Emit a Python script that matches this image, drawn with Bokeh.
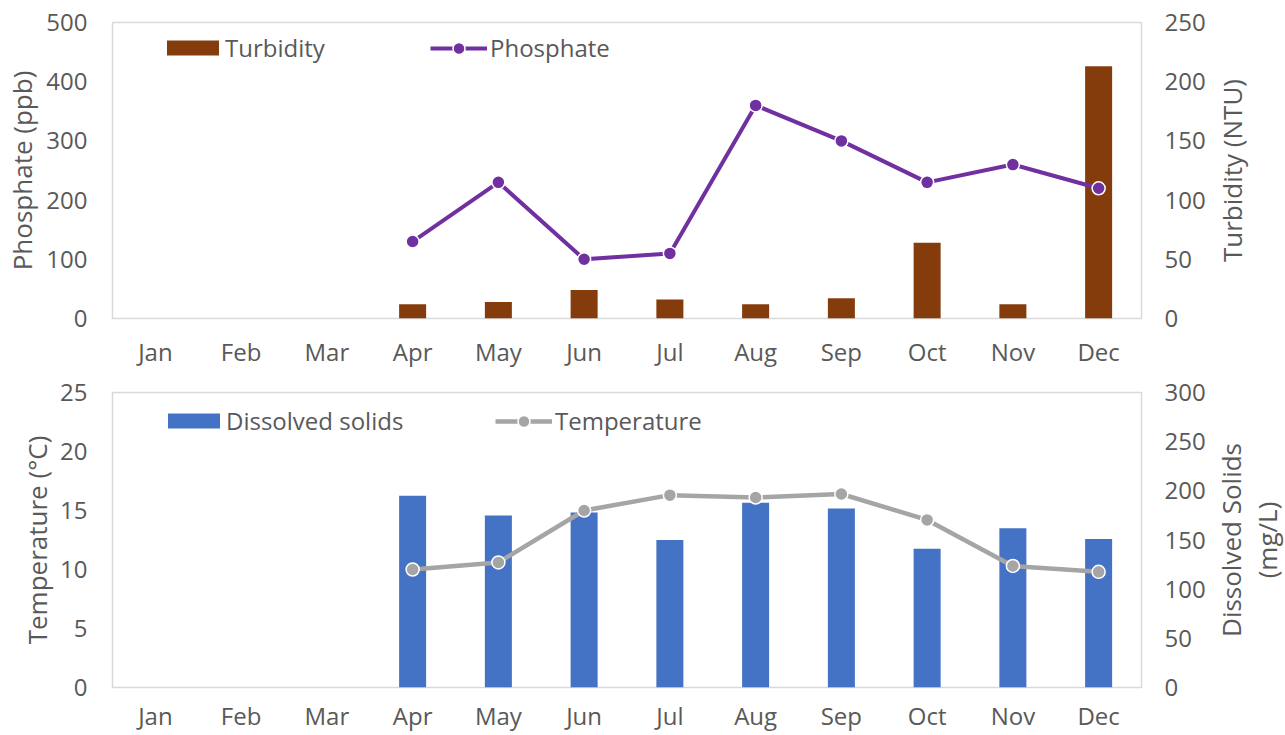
from bokeh.plotting import figure
from bokeh.models import (Range1d, LinearAxis, FixedTicker, Legend, LegendItem,
                          ColumnDataSource)
from bokeh.layouts import gridplot
from bokeh.embed import file_html
from bokeh.resources import INLINE

months = ["Jan", "Feb", "Mar", "Apr", "May", "Jun", "Jul", "Aug", "Sep", "Oct", "Nov", "Dec"]
data_months = ["Apr", "May", "Jun", "Jul", "Aug", "Sep", "Oct", "Nov", "Dec"]
phosphate = [130, 230, 100, 110, 360, 300, 230, 260, 220]
turbidity = [12, 14, 24, 16, 12, 17, 64, 12, 213]
temperature = [10.0, 10.6, 15.0, 16.3, 16.1, 16.4, 14.2, 10.3, 9.8]
dissolved = [195, 175, 178, 150, 188, 182, 141, 162, 151]

phos_ticks = [0, 100, 200, 300, 400, 500]
turb_ticks = [0, 50, 100, 150, 200, 250]
temp_ticks = [0, 5, 10, 15, 20, 25]
ds_ticks = [0, 50, 100, 150, 200, 250, 300]

FONT = "Open Sans"
FS = "24px"
TFS = "26px"
TXT = "#595959"
FRAME = "#D9D9D9"

MAIN_W = 1211   # main panels
SIDE_W = 74     # narrow strip holding the right-hand axis titles

src = ColumnDataSource(dict(m=data_months, phos=phosphate, turb=turbidity,
                            temp=temperature, ds=dissolved))


def style_axis(ax, standoff, label_standoff=0):
    ax.major_label_text_font = FONT
    ax.major_label_text_font_size = FS
    ax.major_label_text_color = TXT
    ax.axis_label_text_font = FONT
    ax.axis_label_text_font_size = TFS
    ax.axis_label_text_color = TXT
    ax.axis_label_text_font_style = "normal"
    ax.major_tick_line_color = None
    ax.minor_tick_line_color = None
    ax.axis_line_color = None
    ax.major_label_standoff = standoff
    ax.axis_label_standoff = label_standoff


def make_fig(height, top, bottom):
    p = figure(x_range=months, width=MAIN_W, height=height, output_backend="svg",
               toolbar_location=None, min_border_left=112, min_border_right=70,
               min_border_top=top, min_border_bottom=bottom)
    p.xgrid.grid_line_color = None
    p.ygrid.grid_line_color = None
    p.outline_line_color = FRAME
    p.outline_line_width = 1.5
    p.background_fill_color = "white"
    p.border_fill_color = "white"
    return p


def title_strip(height, top, bottom, text, label_standoff, line_height=1.2):
    t = figure(width=SIDE_W, height=height, x_range=Range1d(0, 1), y_range=Range1d(0, 1),
               output_backend="svg", toolbar_location=None,
               min_border_left=SIDE_W - 1, min_border_right=0,
               min_border_top=top, min_border_bottom=bottom)
    t.xaxis.visible = False
    t.xgrid.grid_line_color = None
    t.ygrid.grid_line_color = None
    t.outline_line_color = None
    t.background_fill_color = "white"
    t.border_fill_color = "white"
    ax = t.yaxis[0]
    ax.ticker = FixedTicker(ticks=[])
    ax.axis_label = text
    style_axis(ax, 0, label_standoff)
    ax.axis_label_text_line_height = line_height
    return t


def legend(item_label, rends, x, y, gw, gh, standoff):
    return Legend(items=[LegendItem(label=item_label, renderers=rends)], location=(x, y),
                  orientation="horizontal", glyph_width=gw, glyph_height=gh,
                  label_text_font=FONT, label_text_font_size=FS, label_text_color=TXT,
                  border_line_color=None, background_fill_alpha=0, padding=0, margin=0,
                  label_standoff=standoff, spacing=0)


# ---------- top panel ----------
H1, T1, B1 = 371, 22, 53
p1 = make_fig(H1, T1, B1)
p1.y_range = Range1d(0, 500)
p1.extra_y_ranges = {"turb": Range1d(0, 250)}
bars1 = p1.vbar(x="m", top="turb", width=0.315, source=src, y_range_name="turb",
                fill_color="#843C0C", line_color=None)
line1 = p1.line(x="m", y="phos", source=src, line_color="#7030A0", line_width=4)
pts1 = p1.scatter(x="m", y="phos", source=src, size=13, fill_color="#7030A0",
                  line_color="white", line_width=1.5)
p1.yaxis.ticker = FixedTicker(ticks=phos_ticks)
p1.yaxis.axis_label = "Phosphate (ppb)"
style_axis(p1.yaxis[0], 19, 3)
style_axis(p1.xaxis[0], 10)
r1 = LinearAxis(y_range_name="turb", ticker=FixedTicker(ticks=turb_ticks))
style_axis(r1, 17)
p1.add_layout(r1, "right")
p1.add_layout(legend("Turbidity", [bars1], 48, 254, 65, 19, 0))
p1.add_layout(legend("Phosphate", [line1, pts1], 318, 254, 57, 30, 3))
t1 = title_strip(H1, T1, B1, "Turbidity (NTU)", 36)

# ---------- bottom panel ----------
H2, T2, B2 = 364, 21, 48
p2 = make_fig(H2, T2, B2)
p2.y_range = Range1d(0, 25)
p2.extra_y_ranges = {"ds": Range1d(0, 300)}
bars2 = p2.vbar(x="m", top="ds", width=0.315, source=src, y_range_name="ds",
                fill_color="#4472C4", line_color=None)
line2 = p2.line(x="m", y="temp", source=src, line_color="#A5A5A5", line_width=4.5)
pts2 = p2.scatter(x="m", y="temp", source=src, size=13, fill_color="#A5A5A5",
                  line_color="white", line_width=1.5)
p2.yaxis.ticker = FixedTicker(ticks=temp_ticks)
p2.yaxis.axis_label = "Temperature (°C)"
style_axis(p2.yaxis[0], 19, 2)
style_axis(p2.xaxis[0], 5)
r2 = LinearAxis(y_range_name="ds", ticker=FixedTicker(ticks=ds_ticks))
style_axis(r2, 17)
p2.add_layout(r2, "right")
p2.add_layout(legend("Dissolved solids", [bars2], 49, 250, 65, 19, 0))
p2.add_layout(legend("Temperature", [line2, pts2], 383, 250, 57, 30, 3))
t2 = title_strip(H2, T2, B2, "Dissolved Solids\n(mg/L)", 1, 1.0)

grid = gridplot([[p1, t1], [p2, t2]], toolbar_location=None)
open("out.html", "w").write(file_html(grid, INLINE))
